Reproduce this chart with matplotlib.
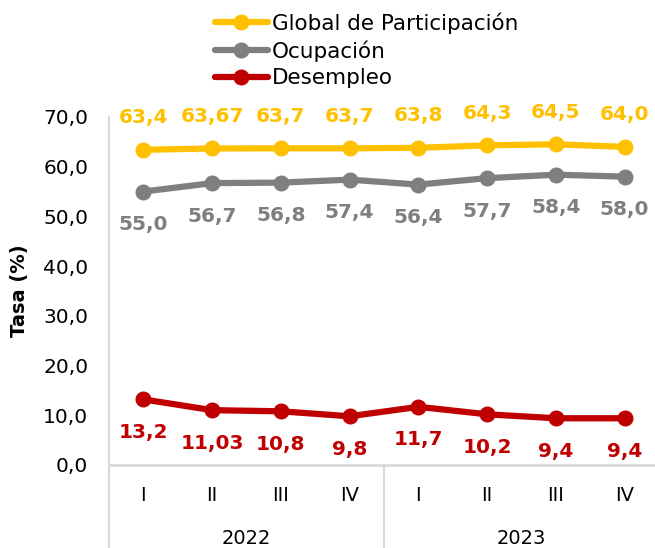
import numpy as np
import matplotlib
matplotlib.use('Agg')
from matplotlib import pyplot as plt
from matplotlib import transforms

# data
quarters = ['I', 'II', 'III', 'IV', 'I', 'II', 'III', 'IV']
years = ['2022', '2023']
global_part = [63.4, 63.67, 63.7, 63.7, 63.8, 64.3, 64.5, 64.0]
ocupacion = [55.0, 56.7, 56.8, 57.4, 56.4, 57.7, 58.4, 58.0]
desempleo = [13.2, 11.03, 10.8, 9.8, 11.7, 10.2, 9.4, 9.4]

c_yellow = '#FFC000'
c_gray = '#7F7F7F'
c_red = '#C00000'
c_axis = '#D9D9D9'

plt.rcParams['font.family'] = ['DejaVu Sans']

fig = plt.figure(figsize=(6.55, 5.48), dpi=100)
ax = fig.add_axes([109/655, 83/548, 550/655, 348/548])

x = np.arange(len(quarters))
series = [
    ('Global de Participación', global_part, c_yellow, 32),
    ('Ocupación', ocupacion, c_gray, -33),
    ('Desempleo', desempleo, c_red, -33),
]
for name, vals, col, off in series:
    ax.plot(x, vals, color=col, lw=4.5, marker='o', ms=10.5, label=name,
            solid_capstyle='round', clip_on=False, zorder=3)
    for xi, v in zip(x, vals):
        ax.annotate(str(v).replace('.', ','), (xi, v), xytext=(0, off),
                    textcoords='offset pixels', ha='center', va='center',
                    fontsize=14.5, fontweight='bold', color=col)

ax.set_xlim(-0.5, 7.5)
ax.set_ylim(0, 70)
ax.set_yticks(np.arange(0, 71, 10))
ax.set_yticklabels([f'{v:.1f}'.replace('.', ',') for v in np.arange(0, 71, 10)],
                   fontsize=14.5)
ax.tick_params(axis='y', length=0, pad=15)

ax.set_xticks(x)
ax.set_xticklabels(quarters, fontsize=14)
ax.tick_params(axis='x', length=0, pad=15)

for s in ['top', 'right']:
    ax.spines[s].set_visible(False)
ax.spines['left'].set_color(c_axis)
ax.spines['bottom'].set_color(c_axis)
ax.spines['left'].set_linewidth(1.5)
ax.spines['bottom'].set_linewidth(2)

# year separators below the axis
trans = transforms.blended_transform_factory(ax.transData, ax.transAxes)
for xs in [-0.5, 3.5, 7.5]:
    ax.plot([xs, xs], [0, -0.3], transform=trans, color=c_axis, lw=1.5,
            clip_on=False)
for i, yr in enumerate(years):
    ax.text(1.5 + 4*i, -0.21, yr, transform=trans, ha='center', va='center',
            fontsize=14)

fig.text(20/655, 1 - 291/548, 'Tasa (%)', rotation=90, ha='center',
         va='center', fontsize=14, fontweight='bold')

fig.legend(loc='upper left', bbox_to_anchor=(200/655, 1.005), frameon=False,
           fontsize=15.5, handlelength=2.45, handletextpad=0.2,
           labelspacing=0.3, borderpad=0.2)

fig.savefig('out.png', dpi=100)
